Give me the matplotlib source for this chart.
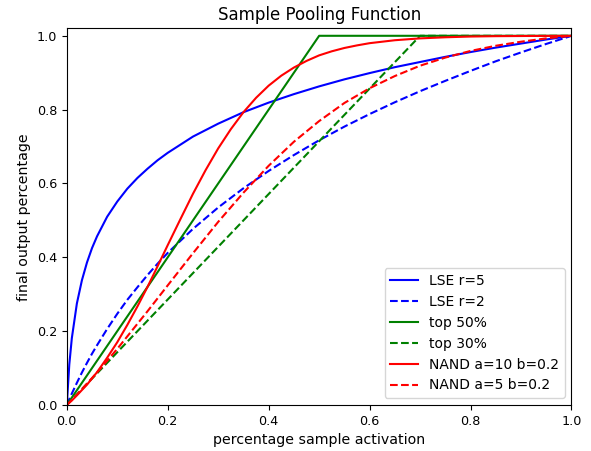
import matplotlib
matplotlib.use("Agg")
import matplotlib.pyplot as plt

# sample activation grid (denser near 0 where LSE bends)
x_grid = [0, 0.005, 0.01, 0.02, 0.03, 0.04, 0.05, 0.06, 0.08, 0.1, 0.12, 0.14,
          0.16, 0.18, 0.2, 0.25, 0.3, 0.35, 0.4, 0.45, 0.5, 0.55, 0.6, 0.65,
          0.7, 0.75, 0.8, 0.85, 0.9, 0.95, 1.0]

lse_r5 = [0, 0.110, 0.181, 0.275, 0.338, 0.386, 0.425, 0.457, 0.510, 0.551,
          0.586, 0.615, 0.640, 0.663, 0.683, 0.727, 0.762, 0.793, 0.819, 0.842,
          0.863, 0.882, 0.899, 0.915, 0.929, 0.943, 0.956, 0.968, 0.979, 0.990, 1.0]

lse_r2 = [0, 0.016, 0.031, 0.060, 0.088, 0.114, 0.139, 0.162, 0.206, 0.247,
          0.285, 0.319, 0.352, 0.383, 0.412, 0.477, 0.535, 0.587, 0.634, 0.677,
          0.717, 0.754, 0.788, 0.820, 0.850, 0.878, 0.905, 0.931, 0.955, 0.978, 1.0]

# NAND a=10 bends sharply between 0.2 and 0.6, so it gets a finer grid there
nand_a10_x = [0, 0.01, 0.02, 0.04, 0.06, 0.08, 0.1, 0.12, 0.14, 0.16, 0.18, 0.2,
              0.225, 0.25, 0.275, 0.3, 0.325, 0.35, 0.375, 0.4, 0.425, 0.45,
              0.475, 0.5, 0.525, 0.55, 0.575, 0.6, 0.65, 0.7, 0.75, 0.8, 0.85,
              0.9, 0.95, 1.0]
nand_a10 = [0, 0.012, 0.026, 0.055, 0.089, 0.128, 0.170, 0.217, 0.267, 0.320,
            0.376, 0.433, 0.503, 0.572, 0.636, 0.695, 0.747, 0.793, 0.832, 0.865,
            0.892, 0.914, 0.932, 0.947, 0.958, 0.967, 0.974, 0.980, 0.988, 0.993,
            0.996, 0.998, 0.999, 0.9994, 0.9998, 1.0]

nand_a5 = [0, 0.007, 0.014, 0.028, 0.043, 0.058, 0.073, 0.088, 0.120, 0.152,
           0.186, 0.220, 0.254, 0.289, 0.324, 0.411, 0.496, 0.575, 0.648, 0.713,
           0.769, 0.818, 0.858, 0.891, 0.919, 0.941, 0.959, 0.973, 0.984, 0.993, 1.0]

top50_x = [0, 0.5, 1.0]
top50_y = [0, 1.0, 1.0]
top30_x = [0, 0.7, 1.0]
top30_y = [0, 1.0, 1.0]

fig, ax = plt.subplots(figsize=(5.91, 4.51), dpi=100)
fig.subplots_adjust(left=0.113, right=0.967, bottom=0.102, top=0.937)

ax.plot(x_grid, lse_r5, color="b", label="LSE r=5")
ax.plot(x_grid, lse_r2, color="b", linestyle="--", label="LSE r=2")
ax.plot(top50_x, top50_y, color="g", label="top 50%")
ax.plot(top30_x, top30_y, color="g", linestyle="--", label="top 30%")
ax.plot(nand_a10_x, nand_a10, color="r", label="NAND a=10 b=0.2")
ax.plot(x_grid, nand_a5, color="r", linestyle="--", label="NAND a=5 b=0.2")

ax.set_xlim(0, 1)
ax.set_ylim(0, 1.02)
ax.tick_params(labelsize=9.2)
ax.set_title("Sample Pooling Function", fontsize=12)
ax.set_xlabel("percentage sample activation", fontsize=10.2)
ax.set_ylabel("final output percentage", fontsize=10.2)
ax.legend(loc="lower right", fontsize=10)

fig.savefig("out.png", dpi=100)
